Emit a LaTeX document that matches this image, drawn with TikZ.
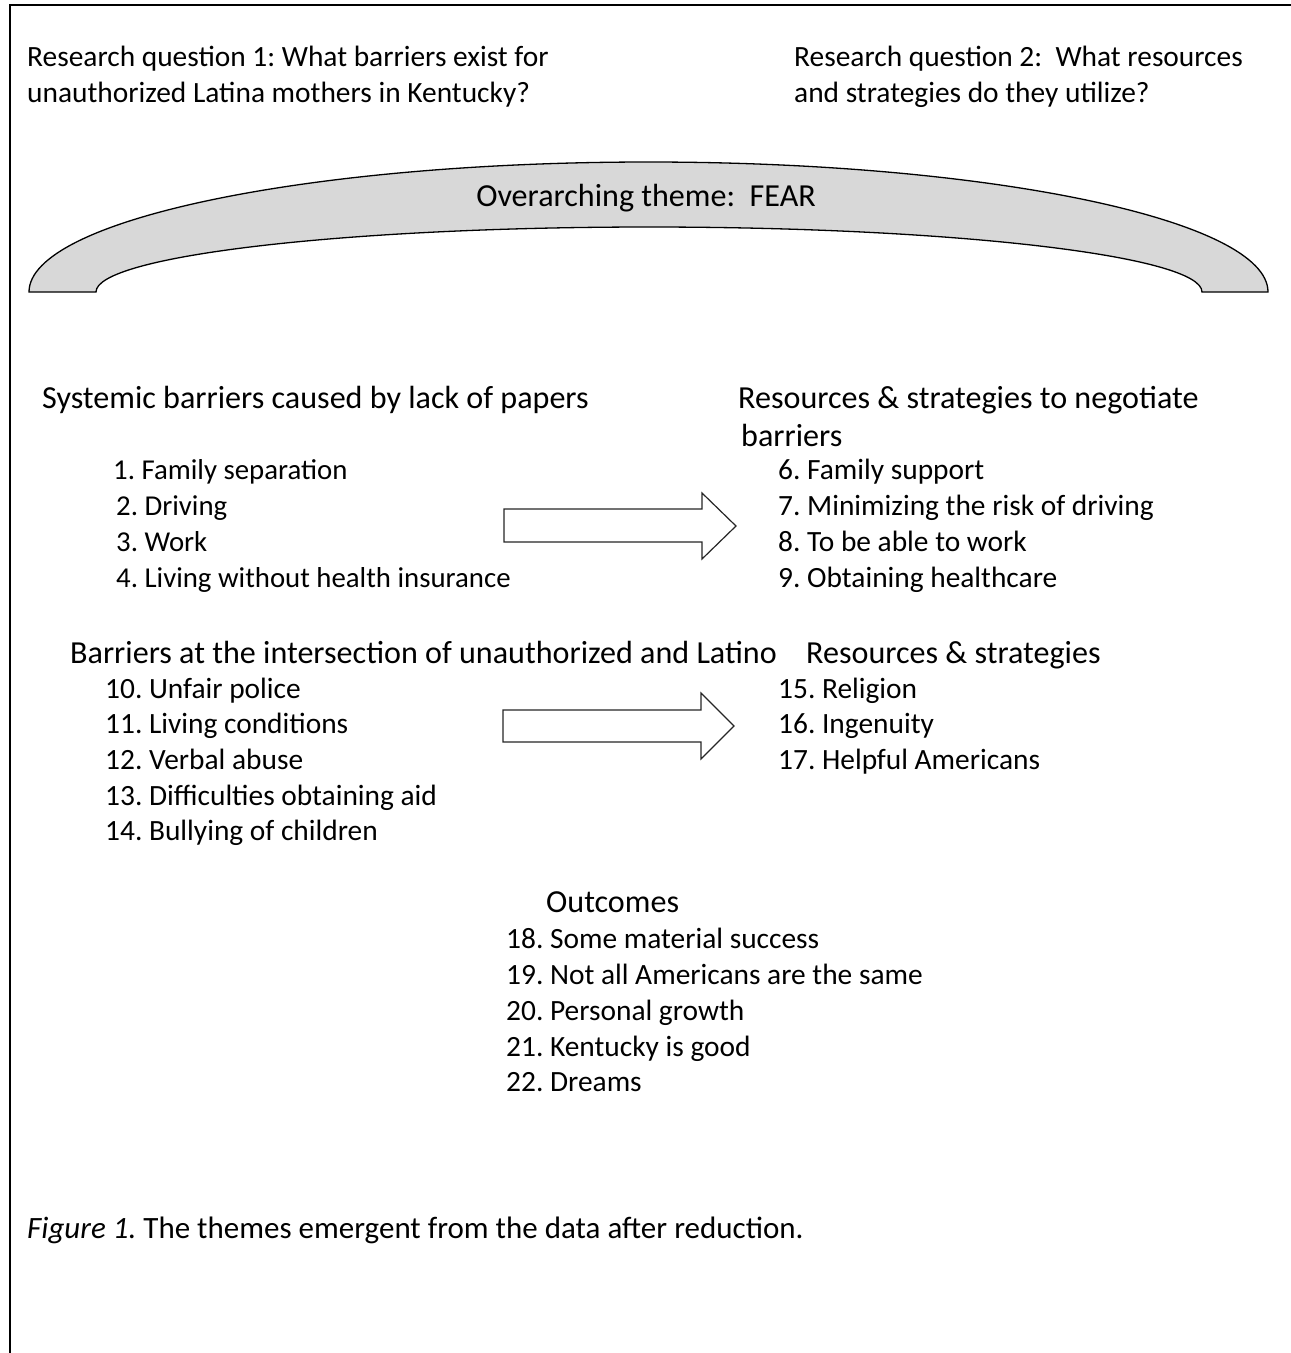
\documentclass[tikz,border=0pt]{standalone}
\usepackage{fontspec}
\setmainfont{Carlito}
\definecolor{archgray}{HTML}{D8D8D8}
\begin{document}
\frenchspacing
\begin{tikzpicture}[x=1pt,y=-1pt,
  txt/.style={anchor=base west,inner sep=0pt,font=\fontsize{29.4}{35}\selectfont},
  txtb/.style={anchor=base west,inner sep=0pt,font=\fontsize{28.8}{35}\selectfont},
  head/.style={anchor=base west,inner sep=0pt,font=\fontsize{32.1}{38}\selectfont},
  captxt/.style={anchor=base west,inner sep=0pt,font=\fontsize{31}{37}\selectfont},
  frame/.style={line width=2.5pt},
  blockarrow/.style={draw=black!85,line width=1.2pt,fill=white,line join=miter},
  arch/.style={draw=black,line width=1.3pt,fill=archgray}]
\useasboundingbox (0,0) rectangle (1291,1353);
\draw[frame] (10,1353) -- (10,5) -- (1291,5);
% research questions
\node[txt] (rq1a) at (27,66) {Research question 1: What barriers exist for};
\node[txt] (rq1b) at (27,102) {unauthorized Latina mothers in Kentucky?};
\node[txt] (rq2a) at (794,66) {Research question 2:\ \ What resources};
\node[txt] (rq2b) at (794,102) {and strategies do they utilize?};
% arch
\draw[arch] (29,292) arc[start angle=180,end angle=0,x radius=619.5pt,y radius=130pt]
  -- (1202,292) arc[start angle=0,end angle=180,x radius=553pt,y radius=65pt] -- cycle;
\node[head,anchor=base] (fear) at (646,206) {Overarching theme:\ \ FEAR};
% first block
\node[head] (h1) at (42,408) {Systemic barriers caused by lack of papers};
\node[head] (h2) at (738,408) {Resources \& strategies to negotiate};
\node[head] (h2b) at (741,446) {barriers};
\node[txtb] (i1) at (113,479) {1. Family separation};
\node[txtb] (i2) at (116,515) {2. Driving};
\node[txtb] (i3) at (116,551) {3. Work};
\node[txtb] (i4) at (116,587) {4. Living without health insurance};
\node[txt] (i6) at (778,479) {6. Family support};
\node[txt] (i7) at (778,515) {7. Minimizing the risk of driving};
\node[txt] (i8) at (778,551) {8. To be able to work};
\node[txt] (i9) at (778,587) {9. Obtaining healthcare};
\draw[blockarrow] (504,509) -- (702,509) -- (702,493) -- (736,526) -- (702,559) -- (702,542) -- (504,542) -- cycle;
% second block
\node[head] (h3) at (70,663) {Barriers at the intersection of unauthorized and Latino};
\node[head] (h4) at (806,663) {Resources \& strategies};
\node[txt] (i10) at (105,698) {10. Unfair police};
\node[txt] (i11) at (105,733) {11. Living conditions};
\node[txt] (i12) at (105,769) {12. Verbal abuse};
\node[txt] (i13) at (105,805) {13. Difficulties obtaining aid};
\node[txt] (i14) at (105,840) {14. Bullying of children};
\node[txt] (i15) at (778,698) {15. Religion};
\node[txt] (i16) at (778,733) {16. Ingenuity};
\node[txt] (i17) at (778,769) {17. Helpful Americans};
\draw[blockarrow] (503,710) -- (701,710) -- (701,693) -- (734,726) -- (701,759) -- (701,742) -- (503,742) -- cycle;
% outcomes
\node[head] (h5) at (546,912) {Outcomes};
\node[txt] (i18) at (506,948) {18. Some material success};
\node[txt] (i19) at (506,984) {19. Not all Americans are the same};
\node[txt] (i20) at (506,1020) {20. Personal growth};
\node[txt] (i21) at (506,1056) {21. Kentucky is good};
\node[txt] (i22) at (506,1091) {22. Dreams};
% caption
\node[captxt] (cap) at (27,1238) {\textit{Figure 1.} The themes emergent from the data after reduction.};
\end{tikzpicture}
\end{document}
